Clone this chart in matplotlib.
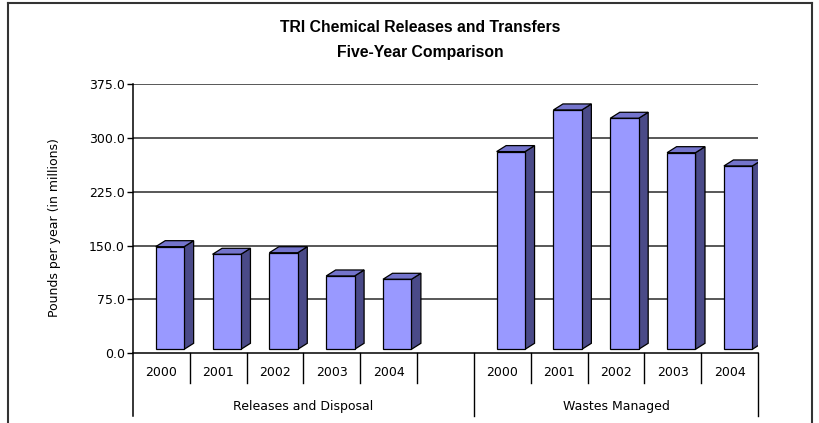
import matplotlib
matplotlib.use("Agg")
import matplotlib.pyplot as plt
import matplotlib.transforms as mtransforms
from matplotlib.lines import Line2D
from matplotlib.patches import Polygon, Rectangle
from matplotlib import font_manager
import numpy as np

# ---------------- data ----------------
title_lines = ["TRI Chemical Releases and Transfers", "Five-Year Comparison"]
groups = ["Releases and Disposal", "Wastes Managed"]
years = ["2000", "2001", "2002", "2003", "2004"]
releases = [142.9, 132.3, 134.5, 102.1, 97.5]
wastes = [275.3, 333.3, 321.7, 273.8, 255.3]
yticks = [0, 75, 150, 225, 300, 375]
ylabel = "Pounds per year (in millions)"

# ---------------- style ----------------
W, H = 820, 423
FRONT = "#9999FF"
SIDE = "#4A4A88"
TOP = "#7474CC"

title_font = None
for fam, size in [("Liberation Sans Narrow", 12), ("Liberation Sans", 11.3)]:
    try:
        font_manager.findfont(font_manager.FontProperties(family=fam),
                              fallback_to_default=False)
        title_font = dict(family=fam, fontsize=size, fontweight="bold")
        break
    except Exception:
        pass
if title_font is None:
    title_font = dict(family="DejaVu Sans", fontsize=10, fontweight="bold")

plt.rcParams["font.family"] = ["DejaVu Sans"]

fig = plt.figure(figsize=(W / 100, H / 100), dpi=100)
fig.patch.set_facecolor("white")

ax_l, ax_r, ax_top, ax_bot = 133, 758, 84, 353.3
ax = fig.add_axes([ax_l / W, 1 - ax_bot / H, (ax_r - ax_l) / W, (ax_bot - ax_top) / H])
nslots = 2 * len(years) + 1
ax.set_xlim(0, nslots)
ax.set_ylim(0, 375)
for s in ax.spines.values():
    s.set_visible(False)
ax.set_facecolor("none")

# pixel -> data conversions
px_x = nslots / (ax_r - ax_l)
px_y = 375 / (ax_bot - ax_top)

# gridlines
for v in yticks[1:]:
    ax.plot([0, nslots], [v, v], color="#2a2a2a", lw=1.1, zorder=1, solid_capstyle="butt")
ax.plot([0, nslots], [0, 0], color="black", lw=1.1, zorder=1, clip_on=False)

ax.set_yticks(yticks)
ax.set_yticklabels([f"{v:.1f}" for v in yticks])
ax.tick_params(axis="y", length=4, width=1, direction="out", pad=2, labelsize=9,
               colors="black")
ax.set_xticks([])

blend = mtransforms.blended_transform_factory(ax.transData, fig.transFigure)
fy = lambda p: 1 - p / H

# y-axis line extending down through group area
ax.plot([0, 0], [fy(ax_top), fy(416)], transform=blend, color="black", lw=1.1,
        clip_on=False, zorder=3)

# bars (pseudo-3D)
base = 4 * px_y
dx = 9.5 * px_x
dy = 6 * px_y
bw = 0.5
off = 0.4
all_vals = [(i, v) for i, v in enumerate(releases)] + \
           [(len(years) + 1 + i, v) for i, v in enumerate(wastes)]
for slot, v in all_vals:
    x0 = slot + off
    x1 = x0 + bw
    yb = base
    yt = base + v
    ax.add_patch(Polygon([(x1, yb), (x1 + dx, yb + dy), (x1 + dx, yt + dy), (x1, yt)],
                         closed=True, facecolor=SIDE, edgecolor="black", lw=0.9, zorder=4))
    ax.add_patch(Polygon([(x0, yt), (x0 + dx, yt + dy), (x1 + dx, yt + dy), (x1, yt)],
                         closed=True, facecolor=TOP, edgecolor="black", lw=0.9, zorder=4))
    ax.add_patch(Rectangle((x0, yb), bw, v, facecolor=FRONT, edgecolor="black",
                           lw=0.9, zorder=5))

# category axis: year labels and separators
for g in range(2):
    start = g * (len(years) + 1)
    for i, yr in enumerate(years):
        ax.text(start + i + 0.5, fy(372), yr, transform=blend, ha="center", va="center",
                fontsize=9, color="black")
    for k in range(1, len(years) + 1):
        xs = start + k
        if g == 1 and k == len(years):
            continue
        ax.plot([xs, xs], [fy(ax_bot), fy(383)], transform=blend, color="black", lw=1.0,
                clip_on=False)
for xs in [len(years) + 1, nslots]:
    ax.plot([xs, xs], [fy(ax_bot), fy(416)], transform=blend, color="black", lw=1.0,
            clip_on=False)
ax.text((len(years) + 1) / 2, fy(406), groups[0], transform=blend, ha="center",
        va="center", fontsize=9)
ax.text((len(years) + 1 + nslots) / 2, fy(406), groups[1], transform=blend, ha="center",
        va="center", fontsize=9)

# y label
fig.text(55 / W, fy(228), ylabel, rotation=90, ha="center", va="center", fontsize=9)

# title
fig.text(420 / W, fy(27), title_lines[0], ha="center", va="center", **title_font)
fig.text(420 / W, fy(53), title_lines[1], ha="center", va="center", **title_font)

# outer frame
for xs, ys in [([8, 8], [3, 423]), ([8, 812], [3, 3]), ([812, 812], [3, 423])]:
    fig.add_artist(Line2D([x / W for x in xs], [fy(y) for y in ys], color="#333333",
                          lw=1.5, transform=fig.transFigure))

fig.savefig("out.png", dpi=100)
